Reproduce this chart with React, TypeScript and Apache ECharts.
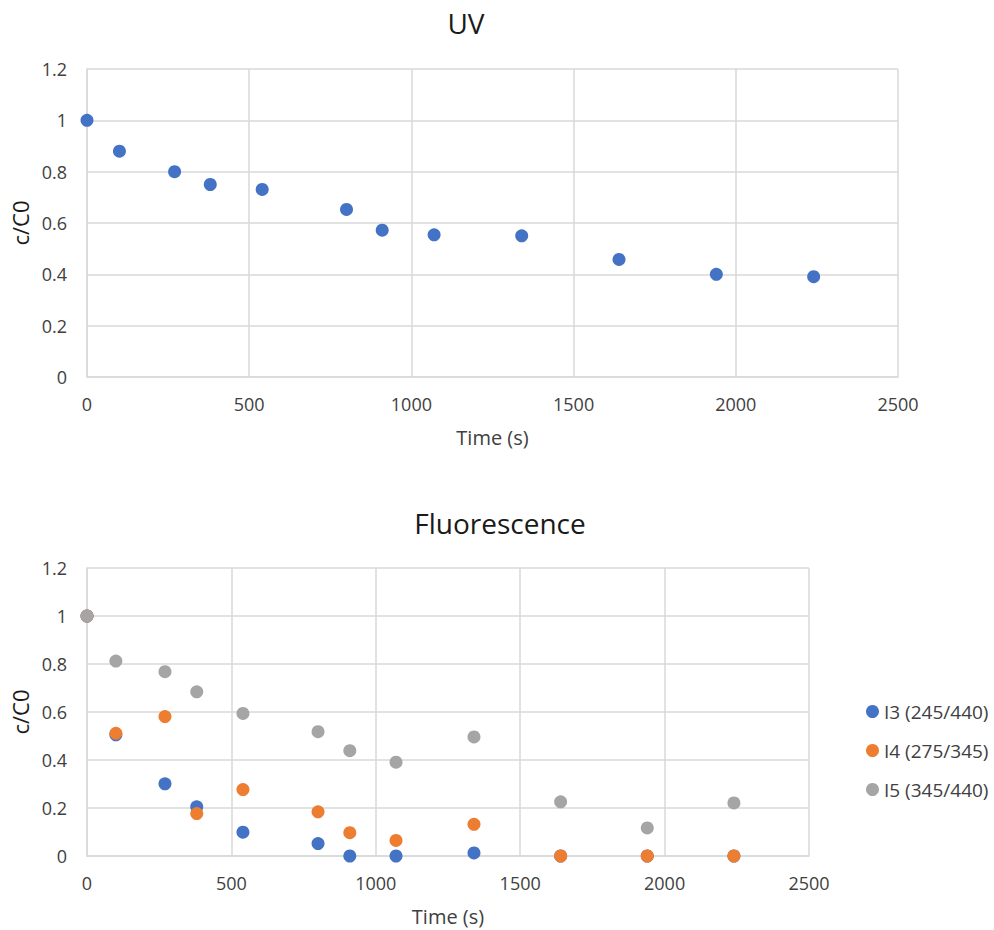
import React, { useEffect, useRef } from "react";
import * as echarts from "echarts";

const times = [0, 100, 270, 380, 540, 800, 910, 1070, 1340, 1640, 1940, 2240];
const uvValues = [1.0, 0.88, 0.8, 0.75, 0.731, 0.653, 0.572, 0.554, 0.55, 0.458, 0.4, 0.391];
const i3Values = [1.0, 0.505, 0.301, 0.205, 0.099, 0.052, 0, 0, 0.013, 0, 0, 0];
const i4Values = [1.0, 0.511, 0.581, 0.177, 0.277, 0.184, 0.097, 0.065, 0.132, 0, 0, 0];
const i5Values = [1.0, 0.812, 0.768, 0.684, 0.594, 0.518, 0.439, 0.391, 0.496, 0.226, 0.117, 0.221];
const seriesNames = ["I3 (245/440)", "I4 (275/345)", "I5 (345/440)"];
const xTicks = { min: 0, max: 2500, interval: 500 };
const yTicks = { min: 0, max: 1.2, interval: 0.2 };

const FONT = "Open Sans";
const GRID = "#D9D9D9";
const TXT = "#404040";

const pairs = (vals: number[]) => times.map((t, i) => [t, vals[i]]);

export default function App() {
  const ref = useRef<HTMLDivElement>(null);
  useEffect(() => {
    const chart = echarts.init(ref.current!, null, { renderer: "svg" });
    const xAxis = (gridIndex: number) => ({
      type: "value",
      gridIndex,
      ...xTicks,
      name: "Time (s)",
      nameLocation: "middle",
      nameGap: 50,
      nameTextStyle: { fontFamily: FONT, fontSize: 20, color: TXT },
      axisLine: { show: true, lineStyle: { color: GRID, width: 1.5 } },
      axisTick: { show: false },
      splitLine: { show: true, lineStyle: { color: GRID, width: 1.5 } },
      axisLabel: {
        fontFamily: FONT,
        fontSize: 18,
        color: TXT,
        margin: 18,
        formatter: (v: number) => String(v),
      },
    });
    const yAxis = (gridIndex: number) => ({
      type: "value",
      gridIndex,
      ...yTicks,
      name: "c/C0",
      nameLocation: "middle",
      nameGap: 54,
      nameTextStyle: { fontFamily: FONT, fontSize: 22, color: "#1a1a1a" },
      axisLine: { show: true, lineStyle: { color: GRID, width: 1.5 } },
      axisTick: { show: false },
      splitLine: { show: true, lineStyle: { color: GRID, width: 1.5 } },
      axisLabel: {
        fontFamily: FONT,
        fontSize: 18,
        color: TXT,
        margin: 20,
        formatter: (v: number) => String(Math.round(v * 10) / 10),
      },
    });
    const colors = ["#4472C4", "#ED7D31", "#A5A5A5"];
    chart.setOption({
      animation: false,
      title: [
        {
          text: "UV",
          left: 461,
          top: 4,
          textAlign: "center",
          textStyle: { fontFamily: FONT, fontSize: 28, fontWeight: "normal", color: "#1a1a1a" },
        },
        {
          text: "Fluorescence",
          left: 495,
          top: 504,
          textAlign: "center",
          textStyle: { fontFamily: FONT, fontSize: 28, fontWeight: "normal", color: "#1a1a1a" },
        },
      ],
      grid: [
        { left: 87, top: 69, width: 811, height: 308 },
        { left: 87, top: 568, width: 722, height: 288 },
      ],
      xAxis: [xAxis(0), xAxis(1)],
      yAxis: [yAxis(0), yAxis(1)],
      legend: {
        data: seriesNames,
        orient: "vertical",
        left: 861,
        top: 697,
        icon: "circle",
        itemWidth: 13,
        itemHeight: 13,
        itemGap: 20,
        textStyle: { fontFamily: FONT, fontSize: 19, color: TXT },
      },
      series: [
        {
          name: "UV",
          type: "scatter",
          xAxisIndex: 0,
          yAxisIndex: 0,
          symbolSize: 13,
          itemStyle: { color: colors[0], opacity: 1 },
          data: pairs(uvValues),
        },
        ...[i3Values, i4Values, i5Values].map((vals, k) => ({
          name: seriesNames[k],
          type: "scatter",
          xAxisIndex: 1,
          yAxisIndex: 1,
          symbolSize: 13,
          itemStyle: { color: colors[k], opacity: 1 },
          data: pairs(vals),
        })),
      ],
    });
    return () => chart.dispose();
  }, []);
  return (
    <div
      ref={ref}
      style={{ position: "absolute", left: 0, top: 0, width: 994, height: 930, background: "#fff" }}
    />
  );
}
